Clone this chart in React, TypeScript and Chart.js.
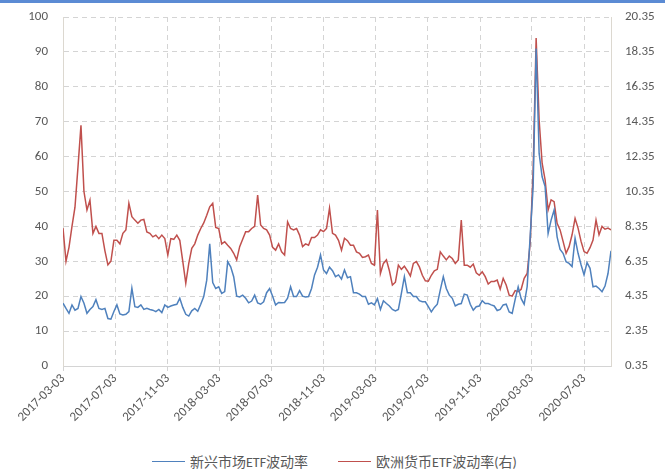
import React, { useEffect, useRef } from "react";
import { Chart, registerables } from "chart.js";

Chart.register(...registerables);

// ---- data -------------------------------------------------------------
const START_DATE = "2017-03-03";
const SAMPLE_STEP_DAYS = 7; // weekly observations

const X_TICK_LABELS = [
  "2017-03-03", "2017-07-03", "2017-11-03", "2018-03-03", "2018-07-03", "2018-11-03",
  "2019-03-03", "2019-07-03", "2019-11-03", "2020-03-03", "2020-07-03",
];
const LEFT_TICKS = [0, 10, 20, 30, 40, 50, 60, 70, 80, 90, 100];
const RIGHT_TICKS = [0.35, 2.35, 4.35, 6.35, 8.35, 10.35, 12.35, 14.35, 16.35, 18.35, 20.35];

const SERIES_NAMES = ["新兴市场ETF波动率", "欧洲货币ETF波动率(右)"];

// 新兴市场ETF波动率 (left axis)
const EM_ETF_VOL = [
  18, 16.5, 15.1, 17.5, 16, 16.5, 19.9, 18, 15.1, 16.2,
  17, 19, 16.5, 16.2, 16.5, 13.6, 13.4, 15.6, 17.5, 14.9,
  14.6, 14.8, 15.6, 22.3, 17, 16.8, 17.5, 16.2, 16.5, 16.2,
  16, 15.6, 16.2, 15.3, 17.5, 16.8, 17.2, 17.5, 17.7, 19.4,
  16.8, 14.8, 14.3, 15.8, 16.5, 15.7, 17.7, 19.9, 24.6, 35,
  23.9, 22.2, 22.7, 20.8, 21.3, 29.9, 28.4, 25.6, 20, 19.8,
  20.3, 19.4, 18.1, 18.6, 20.3, 18.1, 17.7, 18.4, 21, 22.2,
  20, 17.5, 18.2, 18.1, 18.2, 19.4, 22.7, 19.9, 19.9, 21.6,
  20, 19.8, 19.9, 22.2, 26.1, 28.3, 31.8, 27.5, 26.5, 28.3,
  27.3, 25.6, 26.1, 24.9, 27.5, 25.3, 25.6, 21, 21, 20.6,
  19.9, 19.9, 17.7, 18.1, 17.5, 19.3, 16.2, 18.7, 17.9, 17.2,
  16.2, 15.8, 16.2, 20.8, 25.6, 21, 21, 19.9, 19.9, 18.7,
  18.4, 18.4, 17, 15.5, 16.8, 17.7, 21.8, 25.6, 22.2, 20.3,
  19.4, 17.2, 17.7, 17.9, 20.6, 20.3, 17.7, 16, 17, 17.2,
  18.7, 17.9, 17.9, 17.5, 17.2, 15.9, 16.2, 17.5, 17.7, 15.5,
  15.1, 19.1, 22.7, 19.3, 17.7, 22.7, 37, 51.4, 91, 60.9,
  54.2, 51.4, 38, 41.8, 44.7, 37, 33.4, 32.3, 29.9, 29.4,
  28.5, 36.6, 32.3, 29, 26.1, 29.6, 28, 22.7, 22.9, 22.2,
  21.3, 22.9, 26.5, 33,
];

// 欧洲货币ETF波动率 (right axis)
const EU_FX_ETF_VOL = [
  8.25, 6.35, 7.15, 8.35, 9.45, 11.75, 14.15, 10.35, 9.29, 9.85,
  7.95, 8.35, 7.95, 7.95, 6.95, 6.15, 6.35, 7.55, 7.55, 7.35,
  7.95, 8.15, 9.67, 8.91, 8.71, 8.53, 8.71, 8.75, 8.03, 7.95,
  7.75, 7.85, 7.65, 7.85, 7.65, 6.71, 7.65, 7.61, 7.85, 7.55,
  6.35, 5.09, 6.23, 7.09, 7.35, 7.85, 8.23, 8.55, 8.99, 9.47,
  9.67, 8.29, 8.23, 7.35, 7.47, 7.27, 7.09, 6.81, 6.43, 7.19,
  7.61, 8.05, 8.05, 8.23, 8.35, 10.15, 8.43, 8.23, 8.15, 7.85,
  7.15, 6.99, 7.35, 6.89, 6.71, 8.61, 8.23, 8.15, 8.23, 7.85,
  7.19, 7.35, 7.27, 7.71, 7.71, 7.85, 8.15, 8.05, 8.23, 9.39,
  7.95, 7.85, 7.55, 6.99, 7.67, 7.53, 7.27, 7.27, 6.89, 6.81,
  6.57, 6.61, 6.71, 6.23, 6.13, 9.29, 5.65, 6.23, 6.43, 5.81,
  4.99, 5.15, 6.13, 5.89, 6.07, 5.81, 5.51, 6.23, 6.33, 6.03,
  5.55, 5.23, 5.21, 5.55, 5.81, 5.89, 6.89, 6.65, 6.43, 6.65,
  6.51, 6.23, 6.43, 8.71, 6.13, 6.13, 6.01, 6.19, 5.69, 5.55,
  5.75, 5.47, 5.05, 5.19, 5.19, 5.27, 4.75, 5.37, 4.99, 4.41,
  4.35, 4.67, 4.61, 4.75, 5.37, 5.65, 7.37, 11.55, 19.15, 14.45,
  11.97, 11.01, 9.29, 9.87, 9.77, 8.53, 8.15, 7.49, 6.81, 7.19,
  7.87, 8.81, 8.25, 7.49, 6.91, 6.81, 7.13, 7.57, 8.71, 7.87,
  8.35, 8.19, 8.25, 8.15,
];

// ---- helpers ------------------------------------------------------------
const dayOffset = (d: string) =>
  Math.round((Date.parse(d) - Date.parse(START_DATE)) / 86400000);

const BLUE = "#4f81bd";
const RED = "#c0504d";
const TEXT = "#595959";
const GRID = "#d4d4d4";
const FRAME = "#dcd8d0";
const TICK_FONT = { family: "Carlito, Lato, 'Noto Sans', sans-serif", size: 13 };

export default function App() {
  const ref = useRef<HTMLCanvasElement | null>(null);

  useEffect(() => {
    if (!ref.current) return;
    const xMax = (EM_ETF_VOL.length - 1) * SAMPLE_STEP_DAYS;
    const chart = new Chart(ref.current, {
      type: "line",
      data: {
        datasets: [
          {
            label: SERIES_NAMES[0],
            yAxisID: "y",
            data: EM_ETF_VOL.map((v, i) => ({ x: i * SAMPLE_STEP_DAYS, y: v })),
            borderColor: BLUE,
            backgroundColor: BLUE,
            borderWidth: 1.5,
          },
          {
            label: SERIES_NAMES[1],
            yAxisID: "y1",
            data: EU_FX_ETF_VOL.map((v, i) => ({ x: i * SAMPLE_STEP_DAYS, y: v })),
            borderColor: RED,
            backgroundColor: RED,
            borderWidth: 1.5,
          },
        ],
      },
      options: {
        animation: false,
        responsive: false,
        maintainAspectRatio: false,
        layout: { padding: { top: 17, left: 0, right: 0, bottom: 0 } },
        plugins: { legend: { display: false }, tooltip: { enabled: false } },
        elements: { point: { radius: 0 } },
        scales: {
          x: {
            type: "linear",
            min: 0,
            max: xMax,
            afterBuildTicks: (s: any) => {
              s.ticks = X_TICK_LABELS.map((d) => ({ value: dayOffset(d) }));
            },
            afterFit: (s: any) => {
              s.height = 79;
            },
            ticks: {
              minRotation: 45,
              maxRotation: 45,
              autoSkip: false,
              padding: 0,
              color: TEXT,
              font: TICK_FONT,
              callback: (v: any) => X_TICK_LABELS.find((d) => dayOffset(d) === v) ?? "",
            },
            grid: { color: GRID, lineWidth: 1, tickLength: 5 },
            border: { dash: [5, 4], color: GRID },
          },
          y: {
            position: "left",
            min: 0,
            max: 100,
            afterBuildTicks: (s: any) => {
              s.ticks = LEFT_TICKS.map((v) => ({ value: v }));
            },
            afterFit: (s: any) => {
              s.width = 63;
            },
            ticks: { color: TEXT, font: TICK_FONT, padding: 7 },
            grid: { color: GRID, lineWidth: 1, tickColor: "rgba(0,0,0,0)" },
            border: { dash: [5, 4], color: FRAME },
          },
          y1: {
            position: "right",
            min: 0.35,
            max: 20.35,
            afterBuildTicks: (s: any) => {
              s.ticks = RIGHT_TICKS.map((v) => ({ value: v }));
            },
            afterFit: (s: any) => {
              s.width = 54;
            },
            ticks: {
              color: TEXT,
              font: TICK_FONT,
              padding: 6,
              callback: (v: any) => Number(v).toFixed(2),
            },
            grid: { drawOnChartArea: false, color: "rgba(0,0,0,0)" },
            border: { display: true, color: FRAME },
          },
        },
      } as any,
    });
    return () => chart.destroy();
  }, []);

  const legendText: React.CSSProperties = {
    fontFamily: "Carlito, 'Noto Sans CJK SC', sans-serif",
    fontSize: 14,
    color: TEXT,
    whiteSpace: "nowrap",
  };
  const swatch = (c: string): React.CSSProperties => ({
    display: "inline-block",
    width: 33,
    height: 0,
    borderTop: `1.5px solid ${c}`,
    marginRight: 5,
  });

  return (
    <div style={{ position: "absolute", left: 0, top: 0, width: 665, height: 471, background: "#fff" }}>
      <canvas
        ref={ref}
        width={665}
        height={445}
        style={{ position: "absolute", left: 0, top: 0, width: 665, height: 445 }}
      />
      <div style={{ position: "absolute", left: 0, top: 0, width: 665, height: 3, background: "#5b8bd4" }} />
      <div
        style={{
          position: "absolute",
          left: 152,
          top: 451,
          height: 20,
          display: "flex",
          alignItems: "center",
        }}
      >
        <span style={swatch(BLUE)} />
        <span style={legendText}>{SERIES_NAMES[0]}</span>
        <span style={{ ...swatch(RED), marginLeft: 30 }} />
        <span style={legendText}>{SERIES_NAMES[1]}</span>
      </div>
    </div>
  );
}
